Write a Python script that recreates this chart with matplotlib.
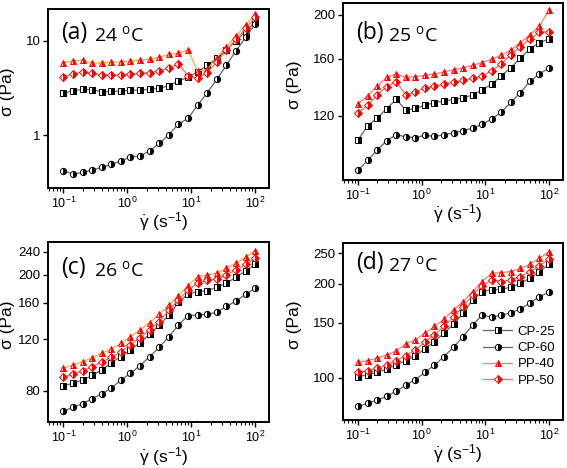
import numpy as np
import matplotlib
matplotlib.use('Agg')
import matplotlib.pyplot as plt
from matplotlib.ticker import FixedLocator, NullFormatter, LogLocator

plt.rcParams['font.family'] = ['Liberation Sans', 'DejaVu Sans']
plt.rcParams['mathtext.fontset'] = 'custom'
plt.rcParams['mathtext.rm'] = 'Liberation Sans'
plt.rcParams['mathtext.it'] = 'Liberation Sans:italic'

# shear rate (1/s)
rate = [0.1, 0.141, 0.2, 0.282, 0.398, 0.562, 0.794, 1.12, 1.58, 2.24, 3.16,
        4.47, 6.31, 8.91, 12.6, 17.8, 25.1, 35.5, 50.1, 70.8, 100]

# (a) 24 C
a_cp25 = [2.77, 2.95, 3.05, 3.02, 2.88, 2.90, 2.93, 2.97, 3.00, 3.05, 3.13,
          3.34, 3.74, 4.09, 4.69, 5.48, 6.50, 7.96, 10.0, 12.5, 15.9]
a_cp60 = [0.419, 0.386, 0.402, 0.426, 0.454, 0.489, 0.530, 0.589, 0.599, 0.682, 0.816,
          1.01, 1.31, 1.50, 2.08, 2.81, 3.89, 5.52, 7.83, 10.8, 15.0]
a_pp40 = [5.85, 6.08, 6.24, 5.75, 5.85, 5.89, 5.99, 6.08, 6.24, 6.39, 6.66,
          7.16, 7.34, 7.96, 4.77, 4.97, 6.60, 8.64, 11.2, 14.7, 19.2]
a_pp50 = [4.15, 4.43, 4.65, 4.51, 4.29, 4.29, 4.36, 4.43, 4.51, 4.58, 4.81,
          5.09, 5.66, 4.22, 3.99, 4.58, 5.99, 7.96, 10.3, 13.5, 17.7]

# (b) 25 C
b_cp25 = [106.1, 113.9, 118.6, 124.3, 130.4, 123.3, 124.5, 126.4, 128.2, 129.3, 130.2,
          131.2, 133.3, 136.7, 140.9, 146.7, 153.1, 160.5, 168.3, 173.8, 176.8]
b_cp60 = [91.0, 95.6, 100.8, 105.7, 108.9, 107.8, 107.3, 108.6, 108.0, 108.9, 109.9,
          111.2, 112.7, 114.8, 118.0, 122.2, 128.4, 134.8, 142.8, 148.2, 152.8]
b_pp40 = [127.3, 132.8, 139.5, 145.7, 148.2, 145.7, 146.2, 147.2, 148.2, 149.8, 151.3,
          152.8, 154.9, 157.0, 159.7, 163.0, 167.4, 173.8, 180.7, 189.2, 204.5]
b_pp50 = [121.8, 126.4, 133.3, 139.0, 142.6, 133.1, 135.6, 137.9, 139.5, 140.9, 142.1,
          143.6, 145.0, 146.7, 150.5, 156.0, 163.3, 170.3, 176.8, 182.9, 183.8]

# (c) 26 C
c_cp25 = [83.2, 84.8, 87.0, 90.3, 94.2, 99.8, 104.7, 110.3, 116.9, 125.2, 134.4,
          145.5, 160.8, 171.7, 174.9, 176.3, 181.1, 187.4, 195.9, 206.0, 217.1]
c_cp60 = [68.1, 70.1, 72.2, 75.1, 77.9, 81.7, 87.0, 91.7, 97.5, 104.7, 112.7,
          122.6, 134.4, 144.7, 145.5, 146.3, 148.6, 155.8, 162.5, 171.3, 179.6]
c_pp40 = [95.5, 98.0, 100.6, 103.8, 107.4, 111.2, 116.3, 122.6, 129.2, 136.9, 146.3,
          157.5, 169.5, 183.4, 197.0, 199.6, 202.2, 210.4, 218.9, 229.5, 241.9]
c_pp50 = [88.9, 91.3, 93.7, 96.7, 100.6, 104.1, 108.9, 114.8, 121.6, 129.2, 138.0,
          151.3, 163.8, 177.3, 186.8, 191.9, 192.9, 199.6, 207.6, 217.1, 227.6]

# (d) 27 C
d_cp25 = [100.7, 102.0, 104.0, 106.3, 109.8, 113.1, 117.6, 123.5, 130.4, 138.7, 148.2,
          160.7, 177.4, 188.5, 190.9, 191.8, 194.7, 200.5, 208.0, 218.5, 230.6]
d_cp60 = [80.8, 82.7, 84.6, 87.1, 90.4, 94.5, 98.5, 103.8, 109.5, 116.7, 125.1,
          135.3, 147.4, 158.7, 156.0, 158.7, 161.1, 165.9, 173.0, 181.7, 187.6]
d_pp40 = [112.0, 113.3, 115.3, 118.2, 121.7, 128.2, 132.0, 138.7, 145.7, 153.8, 164.7,
          175.1, 188.5, 203.0, 215.8, 216.9, 218.5, 223.9, 230.6, 241.0, 253.2]
d_pp50 = [103.8, 105.3, 107.1, 109.8, 113.3, 117.6, 122.6, 129.8, 137.0, 145.7, 156.8,
          168.8, 184.0, 197.1, 205.5, 203.0, 205.5, 210.6, 218.5, 228.3, 239.3]

labels = ['CP-25', 'CP-60', 'PP-40', 'PP-50']
panel_names = ['(a)', '(b)', '(c)', '(d)']
temps = ['24', '25', '26', '27']
yticks = [[1, 10], [120, 160, 200], [80, 120, 160, 200, 240], [100, 150, 200, 250]]
ylims = [(0.274, 21.7), (86.5, 212.6), (62.4, 259), (73.2, 270)]

panels = [
    [a_cp25, a_cp60, a_pp40, a_pp50],
    [b_cp25, b_cp60, b_pp40, b_pp50],
    [c_cp25, c_cp60, c_pp40, c_pp50],
    [d_cp25, d_cp60, d_pp40, d_pp50],
]

styles = [
    dict(marker='s', color='#666666', mec='black', mfc='black', mfcalt='white'),
    dict(marker='o', color='#666666', mec='black', mfc='black', mfcalt='white'),
    dict(marker='^', color='#f0b040', mec='red', mfc='red', mfcalt='#ffc8c8'),
    dict(marker='D', color='#ff6a6a', mec='red', mfc='red', mfcalt='white'),
]

fig = plt.figure(figsize=(5.67, 4.68), dpi=100)
rects = [
    [0.085, 0.598, 0.390, 0.383],
    [0.605, 0.615, 0.388, 0.379],
    [0.085, 0.098, 0.390, 0.385],
    [0.605, 0.103, 0.388, 0.378],
]
label_y = [0.865, 0.83, 0.857, 0.885]

for i in range(4):
    ax = fig.add_axes(rects[i])
    for j in range(4):
        st = styles[j]
        lc = st['color']
        if j == 2 and i in (1, 3):
            lc = '#ff7a7a'
        ax.plot(rate, panels[i][j], color=lc, lw=0.9, marker=st['marker'],
                markersize=4.5 if st['marker'] != 'D' else 4.0,
                markeredgecolor=st['mec'], markerfacecolor=st['mfc'],
                markerfacecoloralt=st['mfcalt'], fillstyle='right',
                markeredgewidth=0.7, label=labels[j])
    ax.set_xscale('log')
    ax.set_yscale('log')
    ax.set_xlim(0.058, 166)
    ax.set_ylim(*ylims[i])
    ax.yaxis.set_major_locator(FixedLocator(yticks[i]))
    ax.yaxis.set_minor_locator(FixedLocator([]))
    ax.yaxis.set_minor_formatter(NullFormatter())
    ax.set_yticklabels([str(v) for v in yticks[i]])
    ax.xaxis.set_major_locator(LogLocator(base=10, numticks=10))
    ax.xaxis.set_minor_locator(LogLocator(base=10, subs=np.arange(2, 10), numticks=20))
    ax.tick_params(which='major', direction='out', length=3.5, width=1, pad=2)
    ax.tick_params(which='minor', direction='out', length=2, width=0.8)
    ax.tick_params(axis='y', labelsize=9.5)
    ax.tick_params(axis='x', labelsize=9)
    for sp in ax.spines.values():
        sp.set_linewidth(1.4)
    ax.set_ylabel('σ (Pa)', fontsize=12.5)
    ax.set_xlabel(r'$\dot{\mathrm{\gamma}}$ (s$^{-1}$)', fontsize=12.5)
    if i % 2 == 0:
        ax.yaxis.set_label_coords(-0.15, 0.54)
    else:
        ax.yaxis.set_label_coords(-0.187, 0.54)
    ax.xaxis.set_label_coords(0.52, -0.125)
    ax.text(0.06, label_y[i], panel_names[i], transform=ax.transAxes, fontsize=16.5,
            family=['Open Sans', 'DejaVu Sans'], va='center', ha='left')
    ax.text(0.205, label_y[i] - 0.01, temps[i] + r' $^{\mathregular{o}}$C',
            transform=ax.transAxes, fontsize=14,
            family=['Open Sans', 'DejaVu Sans'], va='center', ha='left')
    if i == 3:
        ax.legend(loc='center right', bbox_to_anchor=(1.0, 0.36), frameon=False,
                  fontsize=9.5, handlelength=2.2, labelspacing=0.3, borderaxespad=0.2,
                  handletextpad=0.4)

fig.savefig('out.png', dpi=100)
